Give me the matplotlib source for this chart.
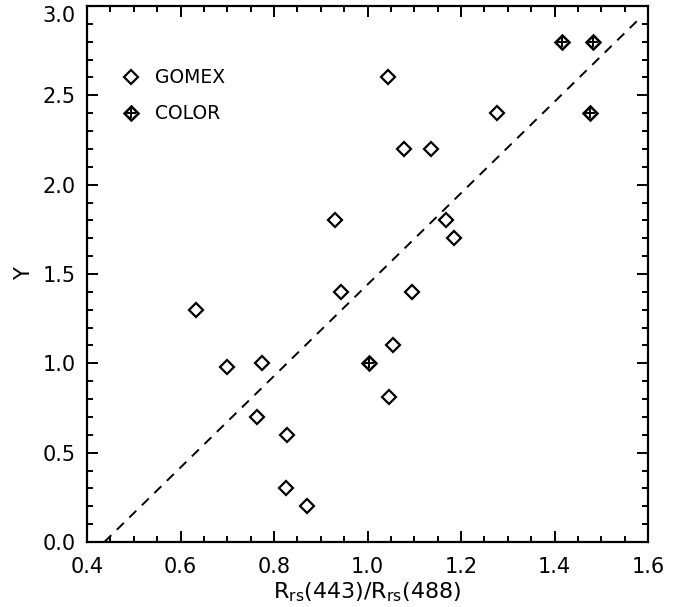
import matplotlib.pyplot as plt
from matplotlib.ticker import MultipleLocator

# GOMEX stations
gomex_x = [1.044, 1.277, 1.078, 1.136, 0.930, 1.168, 1.185, 0.943, 1.095, 0.633,
           0.699, 0.774, 1.055, 1.046, 0.764, 0.828, 0.826, 0.871]
gomex_y = [2.60, 2.40, 2.20, 2.20, 1.80, 1.80, 1.70, 1.40, 1.40, 1.30,
           0.98, 1.00, 1.10, 0.81, 0.70, 0.60, 0.30, 0.20]

# COLOR stations
color_x = [1.416, 1.482, 1.476, 1.003]
color_y = [2.80, 2.80, 2.40, 1.00]

# dashed fit line endpoints
fit_x = [0.437, 1.58]
fit_y = [0.0, 2.925]

plt.rcParams['font.family'] = ['DejaVu Sans']
plt.rcParams['mathtext.fontset'] = 'dejavusans'

fig = plt.figure(figsize=(6.76, 6.07), dpi=100)
ax = fig.add_axes([0.1287, 0.1071, 0.8299, 0.8830])

ax.plot(fit_x, fit_y, color='black', linestyle=(0, (5, 4)), linewidth=1.4)

ax.plot(gomex_x, gomex_y, linestyle='none', marker='D', markersize=7,
        markerfacecolor='white', markeredgecolor='black', markeredgewidth=1.6)
ax.plot(color_x, color_y, linestyle='none', marker='D', markersize=7,
        markerfacecolor='white', markeredgecolor='black', markeredgewidth=1.8)
ax.plot(color_x, color_y, linestyle='none', marker='+', markersize=7,
        markeredgecolor='black', markeredgewidth=1.4)

# legend drawn like the IDL-style label block
ax.plot([0.495], [2.60], marker='D', markersize=7, markerfacecolor='white',
        markeredgecolor='black', markeredgewidth=1.6)
ax.text(0.545, 2.60, 'GOMEX', fontsize=13.5, va='center', ha='left')
ax.plot([0.495], [2.40], marker='D', markersize=7, markerfacecolor='white',
        markeredgecolor='black', markeredgewidth=1.8)
ax.plot([0.495], [2.40], marker='+', markersize=7, markeredgecolor='black',
        markeredgewidth=1.4)
ax.text(0.545, 2.40, 'COLOR', fontsize=13.5, va='center', ha='left')

ax.set_xlim(0.4, 1.6)
ax.set_ylim(0.0, 3.0)
ax.xaxis.set_major_locator(MultipleLocator(0.2))
ax.xaxis.set_minor_locator(MultipleLocator(0.05))
ax.yaxis.set_major_locator(MultipleLocator(0.5))
ax.yaxis.set_minor_locator(MultipleLocator(0.1))
ax.xaxis.set_major_formatter(plt.FormatStrFormatter('%.1f'))
ax.yaxis.set_major_formatter(plt.FormatStrFormatter('%.1f'))
ax.tick_params(which='both', direction='in', top=True, right=True,
               labelsize=15, width=1.4)
ax.tick_params(which='major', length=8, pad=8)
ax.tick_params(axis='x', which='major', pad=11)
ax.tick_params(which='minor', length=4.5)
for s in ax.spines.values():
    s.set_linewidth(1.6)

ax.set_xlabel(r'R$_{\rm rs}$(443)/R$_{\rm rs}$(488)', fontsize=16, labelpad=2)
ax.set_ylabel('Y', fontsize=15, labelpad=6)

# top label sits just under the tick so it stays inside the frame
fig.canvas.draw()
ax.yaxis.get_major_ticks()[-1].label1.set_verticalalignment('top')
for t in ax.yaxis.get_major_ticks():
    if abs(t.get_loc() - 3.0) < 1e-6:
        t.label1.set_verticalalignment('top')

fig.savefig('out.png', dpi=100)
